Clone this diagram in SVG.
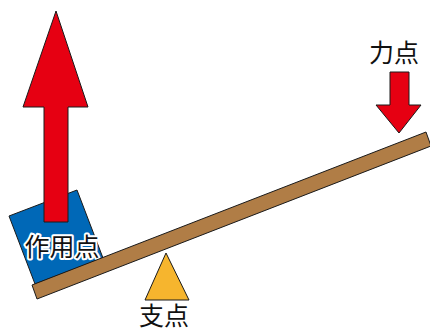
<svg xmlns="http://www.w3.org/2000/svg" width="430" height="331" viewBox="0 0 430 331">
<style>
.red{fill:#E60012;stroke:#1a1a1a;stroke-width:1}
.lbl{font-family:"Noto Sans CJK JP","Noto Sans",sans-serif;font-size:25px;fill:#111;text-anchor:middle}
.halo{stroke:#fff;stroke-width:4;stroke-linejoin:round;paint-order:stroke}
</style>
<rect width="430" height="331" fill="#fff"/>
<g id="box">
<polygon points="9,216 77,190 103,258 35,284" fill="#0068B7" stroke="#1a1a1a" stroke-width="1"/>
</g>
<g id="effort-arrow">
<polygon class="red" points="56,11 88,107 68,107 68,222 44,222 44,107 23,107"/>
</g>
<g id="load-label">
<text class="lbl halo" x="62" y="256">作用点</text>
</g>
<g id="lever">
<polygon points="32,285 426,132 431,146 37,299" fill="#B07D46" stroke="#1a1a1a" stroke-width="1"/>
</g>
<g id="fulcrum">
<polygon points="166,253 189,300 145,300" fill="#F6B52E" stroke="#1a1a1a" stroke-width="1"/>
<text class="lbl" x="164" y="325">支点</text>
</g>
<g id="force-point">
<polygon class="red" points="390,72 409,72 409,105 421,105 399,133 376,105 390,105"/>
<text class="lbl" x="394" y="62">力点</text>
</g>
</svg>
